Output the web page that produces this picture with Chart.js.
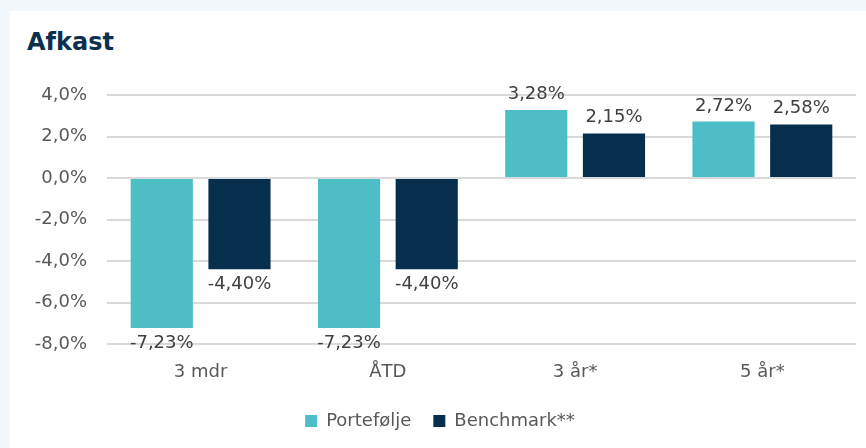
<!DOCTYPE html>
<html>
<head>
<meta charset="utf-8">
<script src="https://cdn.jsdelivr.net/npm/chart.js@4"></script>
<style>
    html, body { margin: 0; padding: 0; }
    body { width: 866px; height: 448px; background: #f3f8fc; position: relative; overflow: hidden; }
    .card { position: absolute; left: 10px; top: 11px; right: 0; bottom: 0; background: #ffffff; }
    .title { position: absolute; left: 27px; top: 28px; font-family: "DejaVu Sans", sans-serif; font-weight: bold; font-size: 24px; color: #0b2f4f; }
    #chartWrap { position: absolute; left: 0; top: 0; width: 866px; height: 448px; }
</style>
</head>
<body>
<div class="card"></div>
<div class="title">Afkast</div>
<div id="chartWrap"><canvas id="afkastChart"></canvas></div>
<script>
// Chart data
const categories = ['3 mdr', 'ÅTD', '3 år*', '5 år*'];
const portfolio = [-7.23, -7.23, 3.28, 2.72];
const benchmark = [-4.40, -4.40, 2.15, 2.58];
const seriesNames = ['Portefølje', 'Benchmark**'];
const yTicks = [-8, -6, -4, -2, 0, 2, 4];

const fmt = v => v.toFixed(2).replace('.', ',') + '%';

// Value labels above / below the bars
const valueLabels = {
    id: 'valueLabels',
    afterDatasetsDraw(chart) {
        const ctx = chart.ctx;
        ctx.save();
        ctx.font = '18px "DejaVu Sans", sans-serif';
        ctx.fillStyle = '#404040';
        ctx.textAlign = 'center';
        chart.data.datasets.forEach((ds, i) => {
            chart.getDatasetMeta(i).data.forEach((bar, j) => {
                const v = ds.data[j];
                if (v >= 0) {
                    ctx.textBaseline = 'alphabetic';
                    ctx.fillText(fmt(v), bar.x, bar.y - 11);
                } else {
                    ctx.textBaseline = 'top';
                    ctx.fillText(fmt(v), bar.x, bar.y + 6);
                }
            });
        });
        ctx.restore();
    }
};

Chart.defaults.font.family = '"DejaVu Sans", sans-serif';
Chart.defaults.color = '#595959';

new Chart(document.getElementById('afkastChart'), {
    type: 'bar',
    data: {
        labels: categories,
        datasets: [{
            label: seriesNames[0],
            data: portfolio,
            backgroundColor: '#4dbdc6',
            categoryPercentage: 0.83,
            barPercentage: 0.8
        }, {
            label: seriesNames[1],
            data: benchmark,
            backgroundColor: '#062f4e',
            categoryPercentage: 0.83,
            barPercentage: 0.8
        }]
    },
    options: {
        responsive: true,
        maintainAspectRatio: false,
        animation: false,
        layout: {
            padding: { left: 24, right: 10, top: 95, bottom: 8 }
        },
        plugins: {
            legend: {
                position: 'bottom',
                labels: {
                    font: { size: 18 },
                    boxWidth: 12,
                    boxHeight: 12,
                    padding: 22,
                    color: '#595959'
                }
            },
            tooltip: { enabled: false }
        },
        scales: {
            x: {
                grid: { display: false, drawTicks: false },
                border: { display: false },
                ticks: { font: { size: 18 }, padding: 18, color: '#595959' },
                afterFit: scale => { scale.height = 46; }
            },
            y: {
                min: -8,
                max: 4,
                afterBuildTicks: scale => { scale.ticks = yTicks.map(v => ({ value: v })); },
                afterFit: scale => { scale.width = 83; },
                grid: { color: '#d9d9d9', lineWidth: 2, drawTicks: false },
                border: { display: false },
                ticks: {
                    font: { size: 18 },
                    padding: 20,
                    color: '#595959',
                    callback: v => v.toFixed(1).replace('.', ',') + '%'
                }
            }
        }
    },
    plugins: [valueLabels]
});
</script>
</body>
</html>
